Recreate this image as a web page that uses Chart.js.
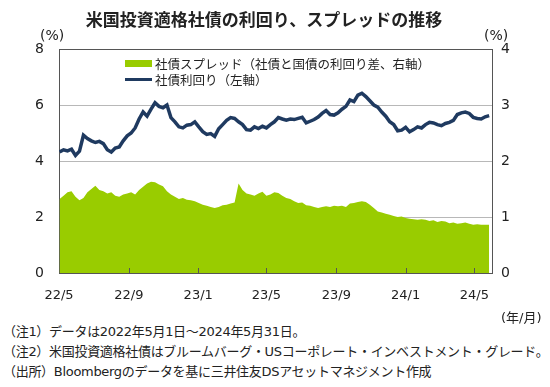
<!DOCTYPE html>
<html>
<head>
<meta charset="utf-8">
<script src="https://cdn.jsdelivr.net/npm/chart.js@4.4.1/dist/chart.umd.min.js"></script>
<style>
    body { margin: 0; background: #fff; }
    #wrap { position: relative; width: 550px; height: 387px; color: #222; font-family: "DejaVu Sans", "Noto Sans CJK JP", sans-serif; }
    #chart { position: absolute; left: 0; top: 0; }
    .txt { position: absolute; white-space: nowrap; }
    #title { left: 0; width: 528px; top: 6px; text-align: center; font: bold 17px "Noto Sans CJK JP", sans-serif; }
    .unit { font-size: 14px; }
    .legend { font: 12.5px "Noto Sans CJK JP", sans-serif; }
    .note { left: 3px; font-size: 13px; letter-spacing: -0.3px; }
</style>
</head>
<body>
<div id="wrap">
    <canvas id="chart" width="550" height="310"></canvas>
    <div class="txt" id="title">米国投資適格社債の利回り、スプレッドの推移</div>
    <div class="txt unit" style="left:40px;top:27px;">(%)</div>
    <div class="txt unit" style="left:484px;top:27px;">(%)</div>
    <div class="txt" style="left:125px;top:60px;width:27px;height:7px;background:#99cc00;"></div>
    <div class="txt legend" style="left:155px;top:54px;">社債スプレッド（社債と国債の利回り差、右軸）</div>
    <div class="txt" style="left:125px;top:78px;width:27px;height:3px;background:#1f3a60;"></div>
    <div class="txt legend" style="left:155px;top:70px;">社債利回り（左軸）</div>
    <div class="txt" style="left:501px;top:307px;font-size:13px;">(年/月)</div>
    <div class="txt note" style="top:321px;">（注1）データは2022年5月1日～2024年5月31日。</div>
    <div class="txt note" style="top:341px;">（注2）米国投資適格社債はブルームバーグ・USコーポレート・インベストメント・グレード。</div>
    <div class="txt note" style="top:361px;">（出所）Bloombergのデータを基に三井住友DSアセットマネジメント作成</div>
</div>
<script>
// weekly observations, days counted from 2022-05-01
const firstDay = 1;
const yieldPct = [
    4.32, 4.40, 4.36, 4.42, 4.20, 4.35, 4.92, 4.80, 4.72, 4.66,
    4.70, 4.62, 4.40, 4.32, 4.46, 4.50, 4.72, 4.90, 5.00, 5.18,
    5.50, 5.75, 5.60, 5.85, 6.08, 5.95, 5.90, 6.00, 5.55, 5.40,
    5.22, 5.18, 5.28, 5.30, 5.40, 5.22, 5.05, 4.95, 4.98, 4.88,
    5.15, 5.30, 5.45, 5.55, 5.52, 5.40, 5.30, 5.12, 5.10, 5.22,
    5.16, 5.24, 5.18, 5.30, 5.40, 5.55, 5.50, 5.46, 5.50, 5.48,
    5.52, 5.56, 5.36, 5.42, 5.48, 5.57, 5.70, 5.80, 5.66, 5.64,
    5.72, 5.85, 5.95, 6.18, 6.12, 6.35, 6.42, 6.30, 6.15, 6.00,
    5.92, 5.75, 5.60, 5.40, 5.30, 5.08, 5.10, 5.20, 5.04, 5.12,
    5.22, 5.18, 5.30, 5.38, 5.36, 5.30, 5.26, 5.34, 5.38, 5.45,
    5.66, 5.72, 5.75, 5.70, 5.56, 5.52, 5.50, 5.58, 5.62
];
const spreadPct = [
    1.32, 1.38, 1.44, 1.46, 1.36, 1.30, 1.34, 1.44, 1.50, 1.56,
    1.48, 1.46, 1.42, 1.44, 1.38, 1.36, 1.40, 1.42, 1.44, 1.40,
    1.48, 1.54, 1.60, 1.63, 1.62, 1.58, 1.55, 1.46, 1.40, 1.36,
    1.32, 1.34, 1.31, 1.30, 1.28, 1.25, 1.22, 1.20, 1.18, 1.16,
    1.18, 1.21, 1.22, 1.24, 1.26, 1.60, 1.48, 1.42, 1.40, 1.38,
    1.42, 1.45, 1.38, 1.40, 1.44, 1.43, 1.38, 1.34, 1.32, 1.28,
    1.25, 1.26, 1.21, 1.20, 1.18, 1.16, 1.18, 1.19, 1.18, 1.20,
    1.19, 1.20, 1.18, 1.24, 1.25, 1.27, 1.28, 1.27, 1.22, 1.16,
    1.10, 1.08, 1.06, 1.04, 1.02, 1.00, 1.01, 0.98, 0.97, 0.96,
    0.95, 0.96, 0.95, 0.93, 0.94, 0.91, 0.93, 0.92, 0.89, 0.90,
    0.88, 0.89, 0.90, 0.88, 0.86, 0.87, 0.86, 0.86, 0.86
];
const tickDays = [0, 123, 245, 365, 488, 610, 731];
const tickLabels = ['22/5', '22/9', '23/1', '23/5', '23/9', '24/1', '24/5'];
const lastDay = 762;

const days = yieldPct.map((_, i) => firstDay + 7 * i);
const axisColor = '#555';

// small tick marks pointing up into the plot, as in the original
const innerTicks = {
    id: 'innerTicks',
    afterDraw(chart) {
        const x = chart.scales.x;
        const ctx = chart.ctx;
        const bottom = chart.chartArea.bottom;
        ctx.save();
        ctx.strokeStyle = axisColor;
        ctx.lineWidth = 1;
        tickDays.slice(1).forEach(d => {
            const px = Math.round(x.getPixelForValue(d)) + 0.5;
            ctx.beginPath();
            ctx.moveTo(px, bottom);
            ctx.lineTo(px, bottom - 5);
            ctx.stroke();
        });
        ctx.restore();
    }
};

new Chart(document.getElementById('chart'), {
    type: 'line',
    data: {
        datasets: [
            {
                label: '社債利回り（左軸）',
                data: days.map((d, i) => ({x: d, y: yieldPct[i]})),
                borderColor: '#1f3a60',
                borderWidth: 3.5,
                pointRadius: 0,
                tension: 0,
                yAxisID: 'y',
                order: 1
            },
            {
                label: '社債スプレッド（社債と国債の利回り差、右軸）',
                data: days.map((d, i) => ({x: d, y: spreadPct[i]})),
                borderWidth: 0,
                borderColor: '#99cc00',
                backgroundColor: '#99cc00',
                fill: 'origin',
                pointRadius: 0,
                tension: 0,
                yAxisID: 'y1',
                order: 2
            }
        ]
    },
    options: {
        responsive: false,
        animation: false,
        layout: { padding: { top: 49, left: 0, right: 0, bottom: 0 } },
        plugins: {
            legend: { display: false },
            tooltip: { enabled: false }
        },
        scales: {
            x: {
                type: 'linear',
                min: 0,
                max: lastDay,
                afterBuildTicks: scale => { scale.ticks = tickDays.map(v => ({value: v})); },
                afterFit: scale => { scale.height = 37; },
                ticks: {
                    autoSkip: false,
                    maxRotation: 0,
                    padding: 15,
                    color: '#222',
                    font: { family: 'DejaVu Sans', size: 13 },
                    callback: v => tickLabels[tickDays.indexOf(v)]
                },
                grid: { drawOnChartArea: false, drawTicks: false },
                border: { color: axisColor, width: 1 }
            },
            y: {
                position: 'left',
                min: 0,
                max: 8,
                afterFit: scale => { scale.width = 59; },
                ticks: {
                    stepSize: 2,
                    padding: 15,
                    color: '#222',
                    font: { family: 'DejaVu Sans', size: 14 }
                },
                grid: {
                    drawTicks: false,
                    color: c => c.tick.value === 8 ? axisColor : (c.tick.value === 0 ? 'rgba(0,0,0,0)' : '#b8b8b8'),
                    lineWidth: 1
                },
                border: { color: axisColor, width: 1 }
            },
            y1: {
                position: 'right',
                min: 0,
                max: 4,
                afterFit: scale => { scale.width = 58; },
                ticks: {
                    stepSize: 1,
                    padding: 9,
                    color: '#222',
                    font: { family: 'DejaVu Sans', size: 14 }
                },
                grid: { drawOnChartArea: false, drawTicks: false },
                border: { color: axisColor, width: 1 }
            }
        }
    },
    plugins: [innerTicks]
});
</script>
</body>
</html>
